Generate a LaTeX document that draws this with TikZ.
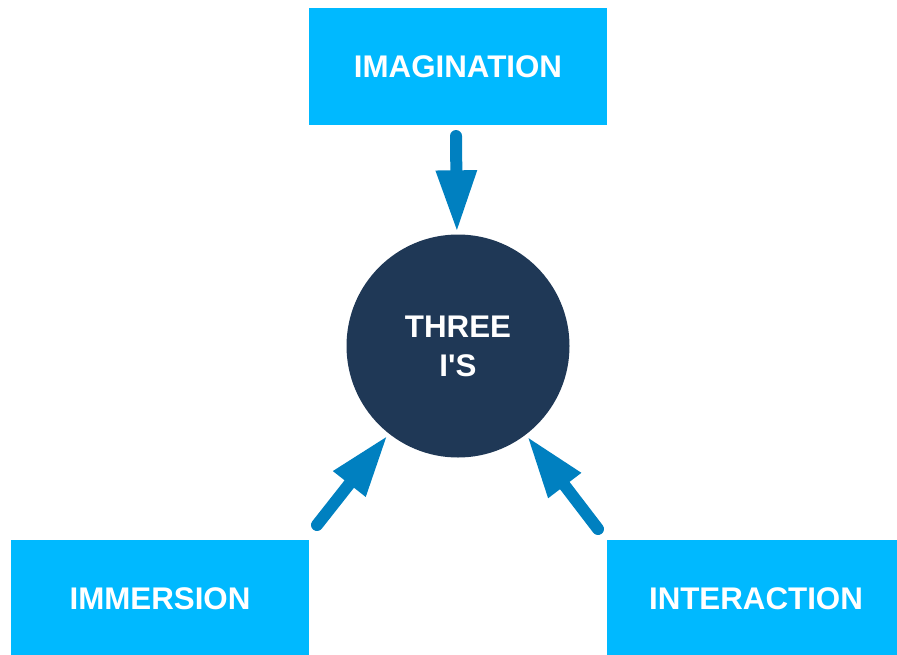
\documentclass[tikz,border=0pt]{standalone}
\usepackage{fontspec}
\setmainfont{Liberation Sans}
\usetikzlibrary{arrows.meta}
\definecolor{boxcyan}{RGB}{0,185,255}
\definecolor{arrowblue}{RGB}{0,128,192}
\definecolor{hubnavy}{RGB}{31,56,86}

\begin{document}
\begin{tikzpicture}[x=1pt,y=-1pt,
    ibox/.style={rectangle, fill=boxcyan, minimum width=298pt, minimum height=117pt,
        inner sep=0pt, text=white, font=\bfseries\fontsize{31.3}{38}\selectfont},
    hub/.style={circle, fill=hubnavy, minimum size=223pt, inner sep=0pt, text=white,
        align=center, font=\bfseries\fontsize{31.3}{39}\selectfont},
    bigarrow/.style={draw=arrowblue, line width=12pt, line cap=round, shorten >=2pt,
        -{Triangle[length=62pt, width=38pt]}}]
    \useasboundingbox (0,0) rectangle (897,654);
    \clip (0,0) rectangle (897,654);
    % boxes
    \node[ibox] (imag) at (458,66.5) {IMAGINATION};
    \node[ibox] (imm) at (160,598.5) {IMMERSION};
    \node[ibox] (inter) at (756,598.5) {INTERACTION};
    \node[hub] (three) at (458,346) {THREE\\I\textquotesingle S};
    % arrows
    \coordinate (imagTail) at (456,136);
    \coordinate (immTail) at (317,525);
    \coordinate (interTail) at (598,529);
    \draw[bigarrow] (imagTail) -- (three);
    \draw[bigarrow] (immTail) -- (three);
    \draw[bigarrow] (interTail) -- (three);
\end{tikzpicture}
\end{document}
